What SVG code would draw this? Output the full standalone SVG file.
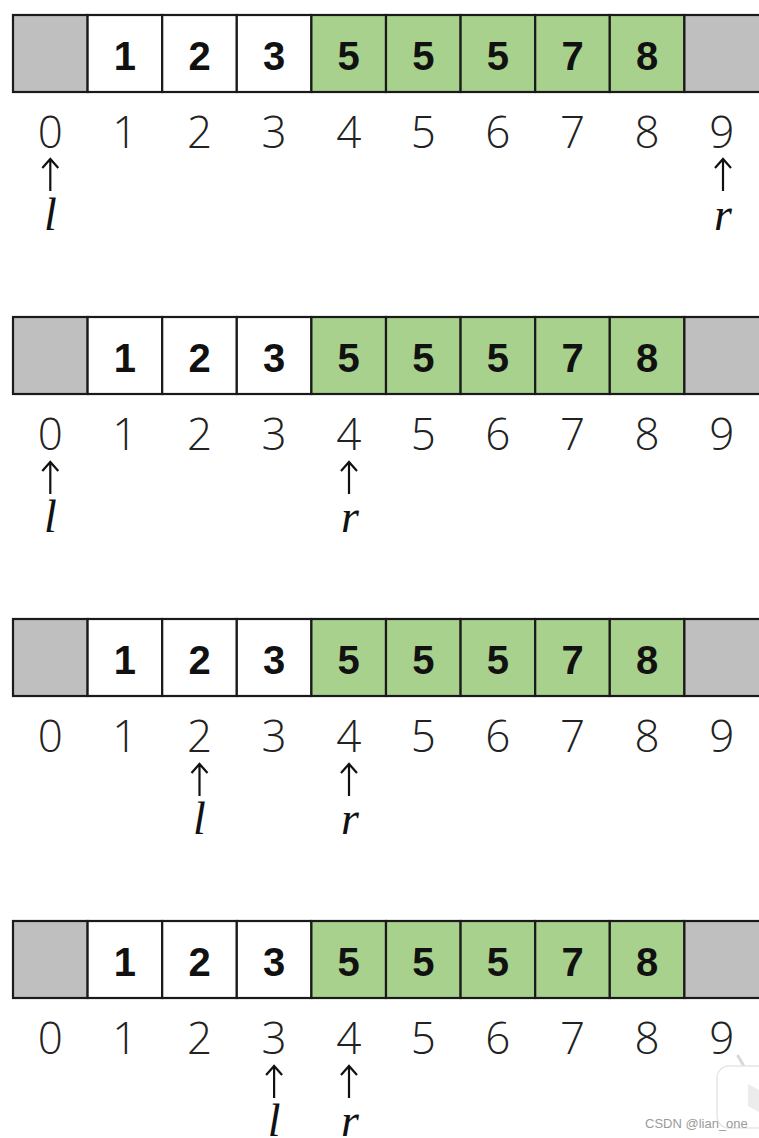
<svg xmlns="http://www.w3.org/2000/svg" width="759" height="1138" viewBox="0 0 759 1138">
<style>
.c{stroke:#1a1a1a;stroke-width:2.2}
.g{fill:#bfbfbf}
.w{fill:#ffffff}
.gr{fill:#a9d18e}
.v{font-family:"Liberation Sans",Arial,sans-serif;font-weight:bold;font-size:40px;fill:#111;text-anchor:middle}
.i{font-family:"Open Sans","Liberation Sans",Arial,sans-serif;font-weight:300;font-size:44px;fill:#222;text-anchor:middle}
.p{font-family:"Liberation Serif","Times New Roman",serif;font-style:italic;font-size:46px;fill:#111;text-anchor:middle}
.a{stroke:#111;stroke-width:2.2;fill:none}
.wm{font-family:"Liberation Sans",Arial,sans-serif;font-size:13px;fill:#9a9a9a}
</style>
<rect width="759" height="1138" fill="#ffffff"/>
<g id="row1" transform="translate(0,15)">
<rect class="c g" x="13" y="0" width="74.6" height="77"/>
<rect class="c w" x="87.6" y="0" width="74.6" height="77"/>
<rect class="c w" x="162.2" y="0" width="74.6" height="77"/>
<rect class="c w" x="236.8" y="0" width="74.6" height="77"/>
<rect class="c gr" x="311.4" y="0" width="74.6" height="77"/>
<rect class="c gr" x="386" y="0" width="74.6" height="77"/>
<rect class="c gr" x="460.6" y="0" width="74.6" height="77"/>
<rect class="c gr" x="535.2" y="0" width="74.6" height="77"/>
<rect class="c gr" x="609.8" y="0" width="74.6" height="77"/>
<rect class="c g" x="684.4" y="0" width="76" height="77"/>
<text class="v" x="124.9" y="55">1</text><text class="v" x="199.5" y="55">2</text><text class="v" x="274.1" y="55">3</text><text class="v" x="348.7" y="55">5</text><text class="v" x="423.3" y="55">5</text><text class="v" x="497.9" y="55">5</text><text class="v" x="572.5" y="55">7</text><text class="v" x="647.1" y="55">8</text>
<text class="i" x="50.3" y="133">0</text><text class="i" x="124.9" y="133">1</text><text class="i" x="199.5" y="133">2</text><text class="i" x="274.1" y="133">3</text><text class="i" x="348.7" y="133">4</text><text class="i" x="423.3" y="133">5</text><text class="i" x="497.9" y="133">6</text><text class="i" x="572.5" y="133">7</text><text class="i" x="647.1" y="133">8</text><text class="i" x="721.7" y="133">9</text>
<text class="p" x="50.3" y="215">l</text><text class="p" x="723" y="215">r</text>
</g>
<g id="row2" transform="translate(0,317)">
<rect class="c g" x="13" y="0" width="74.6" height="77"/>
<rect class="c w" x="87.6" y="0" width="74.6" height="77"/>
<rect class="c w" x="162.2" y="0" width="74.6" height="77"/>
<rect class="c w" x="236.8" y="0" width="74.6" height="77"/>
<rect class="c gr" x="311.4" y="0" width="74.6" height="77"/>
<rect class="c gr" x="386" y="0" width="74.6" height="77"/>
<rect class="c gr" x="460.6" y="0" width="74.6" height="77"/>
<rect class="c gr" x="535.2" y="0" width="74.6" height="77"/>
<rect class="c gr" x="609.8" y="0" width="74.6" height="77"/>
<rect class="c g" x="684.4" y="0" width="76" height="77"/>
<text class="v" x="124.9" y="55">1</text><text class="v" x="199.5" y="55">2</text><text class="v" x="274.1" y="55">3</text><text class="v" x="348.7" y="55">5</text><text class="v" x="423.3" y="55">5</text><text class="v" x="497.9" y="55">5</text><text class="v" x="572.5" y="55">7</text><text class="v" x="647.1" y="55">8</text>
<text class="i" x="50.3" y="133">0</text><text class="i" x="124.9" y="133">1</text><text class="i" x="199.5" y="133">2</text><text class="i" x="274.1" y="133">3</text><text class="i" x="348.7" y="133">4</text><text class="i" x="423.3" y="133">5</text><text class="i" x="497.9" y="133">6</text><text class="i" x="572.5" y="133">7</text><text class="i" x="647.1" y="133">8</text><text class="i" x="721.7" y="133">9</text>
<text class="p" x="50.3" y="215">l</text><text class="p" x="350" y="215">r</text>
</g>
<g id="row3" transform="translate(0,619)">
<rect class="c g" x="13" y="0" width="74.6" height="77"/>
<rect class="c w" x="87.6" y="0" width="74.6" height="77"/>
<rect class="c w" x="162.2" y="0" width="74.6" height="77"/>
<rect class="c w" x="236.8" y="0" width="74.6" height="77"/>
<rect class="c gr" x="311.4" y="0" width="74.6" height="77"/>
<rect class="c gr" x="386" y="0" width="74.6" height="77"/>
<rect class="c gr" x="460.6" y="0" width="74.6" height="77"/>
<rect class="c gr" x="535.2" y="0" width="74.6" height="77"/>
<rect class="c gr" x="609.8" y="0" width="74.6" height="77"/>
<rect class="c g" x="684.4" y="0" width="76" height="77"/>
<text class="v" x="124.9" y="55">1</text><text class="v" x="199.5" y="55">2</text><text class="v" x="274.1" y="55">3</text><text class="v" x="348.7" y="55">5</text><text class="v" x="423.3" y="55">5</text><text class="v" x="497.9" y="55">5</text><text class="v" x="572.5" y="55">7</text><text class="v" x="647.1" y="55">8</text>
<text class="i" x="50.3" y="133">0</text><text class="i" x="124.9" y="133">1</text><text class="i" x="199.5" y="133">2</text><text class="i" x="274.1" y="133">3</text><text class="i" x="348.7" y="133">4</text><text class="i" x="423.3" y="133">5</text><text class="i" x="497.9" y="133">6</text><text class="i" x="572.5" y="133">7</text><text class="i" x="647.1" y="133">8</text><text class="i" x="721.7" y="133">9</text>
<text class="p" x="199.5" y="215">l</text><text class="p" x="350" y="215">r</text>
</g>
<g id="row4" transform="translate(0,921)">
<rect class="c g" x="13" y="0" width="74.6" height="77"/>
<rect class="c w" x="87.6" y="0" width="74.6" height="77"/>
<rect class="c w" x="162.2" y="0" width="74.6" height="77"/>
<rect class="c w" x="236.8" y="0" width="74.6" height="77"/>
<rect class="c gr" x="311.4" y="0" width="74.6" height="77"/>
<rect class="c gr" x="386" y="0" width="74.6" height="77"/>
<rect class="c gr" x="460.6" y="0" width="74.6" height="77"/>
<rect class="c gr" x="535.2" y="0" width="74.6" height="77"/>
<rect class="c gr" x="609.8" y="0" width="74.6" height="77"/>
<rect class="c g" x="684.4" y="0" width="76" height="77"/>
<text class="v" x="124.9" y="55">1</text><text class="v" x="199.5" y="55">2</text><text class="v" x="274.1" y="55">3</text><text class="v" x="348.7" y="55">5</text><text class="v" x="423.3" y="55">5</text><text class="v" x="497.9" y="55">5</text><text class="v" x="572.5" y="55">7</text><text class="v" x="647.1" y="55">8</text>
<text class="i" x="50.3" y="133">0</text><text class="i" x="124.9" y="133">1</text><text class="i" x="199.5" y="133">2</text><text class="i" x="274.1" y="133">3</text><text class="i" x="348.7" y="133">4</text><text class="i" x="423.3" y="133">5</text><text class="i" x="497.9" y="133">6</text><text class="i" x="572.5" y="133">7</text><text class="i" x="647.1" y="133">8</text><text class="i" x="721.7" y="133">9</text>
<text class="p" x="274.1" y="215">l</text><text class="p" x="350" y="215">r</text>
</g>
<g id="connectors">
<path class="a" d="M50.3 191V159M42.3 168L50.3 159L58.3 168"/>
<path class="a" d="M723 191V159M715 168L723 159L731 168"/>
<path class="a" d="M50.3 494V462M42.3 471L50.3 462L58.3 471"/>
<path class="a" d="M349 494V462M341 471L349 462L357 471"/>
<path class="a" d="M199.5 796V764M191.5 773L199.5 764L207.5 773"/>
<path class="a" d="M349 796V764M341 773L349 764L357 773"/>
<path class="a" d="M274.1 1098V1066M266.1 1075L274.1 1066L282.1 1075"/>
<path class="a" d="M349 1098V1066M341 1075L349 1066L357 1075"/>
</g>
<g id="watermark">
<line x1="738" y1="1056" x2="745" y2="1068" stroke="#d8d8d8" stroke-width="3" stroke-linecap="round"/>
<rect x="717" y="1066" width="52" height="62" rx="12" fill="#ffffff" stroke="#e6e6e6" stroke-width="1.5"/>
<path d="M748 1084L759 1090V1112L748 1106Z" fill="#ececec"/>
<text class="wm" x="645" y="1128">CSDN @lian_one</text>
</g>
</svg>
